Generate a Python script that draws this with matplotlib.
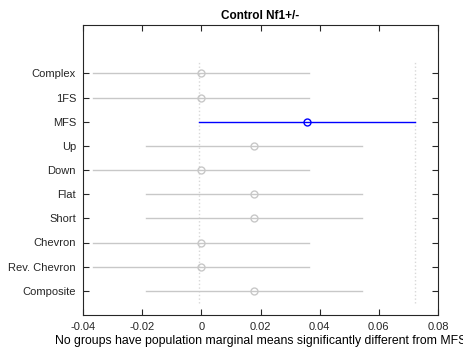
import matplotlib
matplotlib.use("Agg")
import matplotlib.pyplot as plt
import numpy as np

plt.rcParams["font.family"] = ["Liberation Sans", "DejaVu Sans"]

# data (top to bottom)
groups = ['Complex', '1FS', 'MFS', 'Up', 'Down', 'Flat', 'Short',
          'Chevron', 'Rev. Chevron', 'Composite']
means = [0.0, 0.0, 0.0357, 0.0178, 0.0, 0.0178, 0.0178, 0.0, 0.0, 0.0178]
half_width = 0.0365
selected = 'MFS'
xticks = [-0.04, -0.02, 0, 0.02, 0.04, 0.06, 0.08]
title = 'Control Nf1+/-'
xlabel = 'No groups have population marginal means significantly different from MFS'

fig = plt.figure(figsize=(4.63, 3.56), dpi=100)
ax = fig.add_axes([83 / 463, 1 - 315 / 356, 355 / 463, 290 / 356])

n = len(groups)
ypos = np.arange(n, 0, -1)
gray = '#c8c8c8'
sel_mean = means[groups.index(selected)]
lo_sel, hi_sel = sel_mean - half_width, sel_mean + half_width

for y, g, m in zip(ypos, groups, means):
    if g == selected:
        ax.plot([m - half_width, m + half_width], [y, y], color='#0000ff', lw=1, zorder=3)
        ax.plot(m, y, 'o', mfc='none', mec='#0000ff', ms=5, mew=1, zorder=4)
    else:
        ax.plot([m - half_width, m + half_width], [y, y], color=gray, lw=1, zorder=2)
        ax.plot(m, y, 'o', mfc='none', mec=gray, ms=5, mew=1, zorder=2)

# dotted limits of the selected group's interval
for xv in (lo_sel, hi_sel):
    ax.plot([xv, xv], [0.5, n + 0.5], color='#d8d8d8', lw=1, ls=':', zorder=1)

ax.set_xlim(-0.04, 0.08)
ax.set_ylim(0, n + 2)
ax.set_xticks(xticks)
ax.set_xticklabels(['-0.04', '-0.02', '0', '0.02', '0.04', '0.06', '0.08'])
ax.set_yticks(ypos)
ax.set_yticklabels(groups)
ax.tick_params(direction='in', top=True, right=True, length=4, width=0.8,
               labelsize=8, colors='#262626', pad=5)
for sp in ax.spines.values():
    sp.set_color('#262626')
    sp.set_linewidth(0.8)

ax.set_title(title, fontsize=8.5, fontweight='bold', pad=4)
ax.set_xlabel(xlabel, fontsize=8.8, labelpad=2)

fig.savefig('out.png', dpi=100)
